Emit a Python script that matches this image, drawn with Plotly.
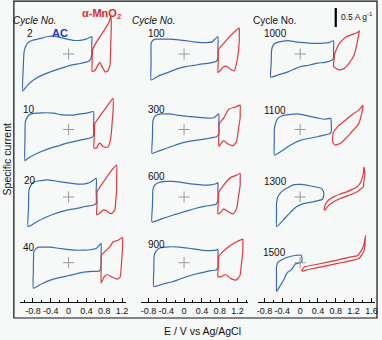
import plotly.graph_objects as go

# ---------------- data (E in V vs Ag/AgCl, specific current in A g-1) ----------------
cycles = ["2", "100", "1000", "10", "300", "1100", "20", "600", "1300", "40", "900", "1500"]

ac_2_E = [-1.03,-1.02,-1.00,-0.96,-0.89,-0.78,-0.63,-0.47,-0.34,-0.18,-0.03,0.10,0.26,0.39,0.52,0.52,0.52,0.49,0.44,0.26,0.04,-0.18,-0.41,-0.58,-0.78,-0.92,-1.03]
ac_2_I = [-0.97,-0.42,0.05,0.21,0.32,0.37,0.41,0.46,0.47,0.43,0.39,0.36,0.36,0.39,0.46,0.24,-0.03,-0.14,-0.20,-0.25,-0.30,-0.38,-0.47,-0.55,-0.68,-0.82,-0.97]
mn_2_E = [0.53,0.53,0.54,0.59,0.70,0.82,0.91,0.95,0.96,0.95,0.94,0.93,0.88,0.82,0.75,0.70,0.66,0.60,0.53]
mn_2_I = [-0.46,-0.16,0.11,0.24,0.45,0.66,0.84,1.00,0.76,0.37,-0.03,-0.29,-0.45,-0.47,-0.32,-0.22,-0.29,-0.42,-0.46]

ac_10_E = [-0.98,-0.98,-0.97,-0.92,-0.85,-0.72,-0.56,-0.33,-0.18,-0.04,0.10,0.26,0.41,0.56,0.56,0.56,0.52,0.26,-0.04,-0.23,-0.41,-0.61,-0.78,-0.90,-0.98]
ac_10_I = [-0.82,-0.28,0.21,0.34,0.41,0.43,0.44,0.43,0.39,0.38,0.38,0.41,0.43,0.47,0.12,-0.14,-0.21,-0.28,-0.36,-0.43,-0.49,-0.58,-0.67,-0.75,-0.82]
mn_10_E = [0.57,0.58,0.59,0.70,0.82,0.93,1.00,1.00,0.98,0.96,0.93,0.89,0.83,0.78,0.70,0.66,0.63,0.57]
mn_10_I = [-0.49,-0.14,0.16,0.35,0.54,0.72,0.82,0.51,0.20,-0.10,-0.33,-0.45,-0.47,-0.45,-0.36,-0.41,-0.49,-0.49]

ac_20_E = [-0.91,-0.90,-0.89,-0.84,-0.78,-0.63,-0.48,-0.34,-0.18,-0.01,0.19,0.33,0.48,0.62,0.62,0.62,0.56,0.37,0.19,-0.01,-0.18,-0.36,-0.56,-0.74,-0.91]
ac_20_I = [-0.78,-0.29,0.18,0.32,0.40,0.43,0.45,0.43,0.40,0.37,0.34,0.34,0.38,0.49,0.16,-0.17,-0.21,-0.25,-0.30,-0.34,-0.39,-0.46,-0.56,-0.67,-0.78]
mn_20_E = [0.63,0.64,0.64,0.75,0.86,0.97,1.08,1.08,1.08,1.06,1.04,0.97,0.93,0.85,0.78,0.70,0.63]
mn_20_I = [-0.47,-0.16,0.14,0.34,0.53,0.71,0.84,0.50,0.18,-0.08,-0.34,-0.43,-0.43,-0.36,-0.34,-0.43,-0.47]

ac_40_E = [-0.79,-0.79,-0.78,-0.73,-0.67,-0.54,-0.41,-0.23,-0.04,0.15,0.33,0.48,0.63,0.73,0.73,0.73,0.69,0.53,0.33,0.15,-0.04,-0.23,-0.41,-0.61,-0.79]
ac_40_I = [-0.67,-0.19,0.29,0.37,0.41,0.41,0.41,0.38,0.35,0.33,0.33,0.34,0.38,0.51,0.23,-0.06,-0.22,-0.23,-0.25,-0.30,-0.35,-0.40,-0.46,-0.56,-0.67]
mn_40_E = [0.73,0.73,0.74,0.84,0.93,1.00,1.11,1.21,1.21,1.19,1.16,1.10,1.08,0.96,0.87,0.82,0.78,0.73]
mn_40_I = [-0.54,-0.19,0.20,0.32,0.42,0.55,0.59,0.66,0.38,0.02,-0.37,-0.43,-0.43,-0.37,-0.31,-0.35,-0.41,-0.54]

ac_100_E = [-0.74,-0.74,-0.74,-0.70,-0.63,-0.49,-0.33,-0.16,0.04,0.22,0.41,0.51,0.63,0.76,0.76,0.76,0.72,0.56,0.41,0.22,0.04,-0.16,-0.33,-0.56,-0.74]
ac_100_I = [-0.68,-0.21,0.28,0.36,0.39,0.39,0.39,0.38,0.35,0.32,0.30,0.30,0.32,0.46,0.16,-0.11,-0.20,-0.24,-0.26,-0.30,-0.33,-0.39,-0.47,-0.57,-0.68]
mn_100_E = [0.76,0.77,0.77,0.89,1.00,1.13,1.24,1.24,1.24,1.22,1.18,1.13,1.07,1.04,0.98,0.92,0.85,0.80,0.76]
mn_100_I = [-0.49,-0.18,0.11,0.28,0.43,0.58,0.68,0.53,0.37,0.05,-0.24,-0.44,-0.42,-0.40,-0.34,-0.32,-0.38,-0.45,-0.49]

ac_300_E = [-0.72,-0.71,-0.70,-0.66,-0.59,-0.47,-0.33,-0.16,0.04,0.22,0.41,0.56,0.67,0.78,0.78,0.78,0.72,0.56,0.41,0.18,-0.04,-0.22,-0.41,-0.58,-0.72]
ac_300_I = [-0.63,-0.21,0.22,0.34,0.39,0.41,0.41,0.38,0.35,0.33,0.31,0.30,0.31,0.41,0.13,-0.13,-0.19,-0.23,-0.26,-0.30,-0.35,-0.42,-0.50,-0.57,-0.63]
mn_300_E = [0.78,0.78,0.79,0.89,1.00,1.15,1.26,1.26,1.26,1.22,1.18,1.11,1.06,1.00,0.94,0.89,0.82,0.78]
mn_300_I = [-0.44,-0.13,0.15,0.30,0.53,0.59,0.64,0.47,0.31,0.00,-0.31,-0.42,-0.42,-0.39,-0.34,-0.29,-0.39,-0.44]

ac_600_E = [-0.72,-0.71,-0.70,-0.66,-0.59,-0.44,-0.26,-0.09,0.11,0.29,0.48,0.60,0.72,0.76,0.76,0.76,0.72,0.60,0.48,0.29,0.11,-0.09,-0.26,-0.49,-0.72]
ac_600_I = [-0.66,-0.24,0.18,0.31,0.37,0.41,0.41,0.39,0.35,0.33,0.31,0.32,0.35,0.38,0.15,-0.09,-0.19,-0.22,-0.24,-0.29,-0.35,-0.42,-0.48,-0.57,-0.66]
mn_600_E = [0.76,0.77,0.78,0.89,0.98,1.07,1.17,1.26,1.26,1.26,1.22,1.18,1.11,1.06,1.00,0.94,0.89,0.82,0.76]
mn_600_I = [-0.44,-0.14,0.13,0.31,0.44,0.53,0.57,0.62,0.47,0.31,-0.01,-0.31,-0.44,-0.43,-0.39,-0.35,-0.31,-0.41,-0.44]

ac_900_E = [-0.68,-0.68,-0.67,-0.62,-0.56,-0.42,-0.26,-0.09,0.11,0.29,0.48,0.60,0.72,0.76,0.76,0.76,0.72,0.60,0.48,0.29,0.11,-0.09,-0.26,-0.47,-0.68]
ac_900_I = [-0.63,-0.22,0.20,0.32,0.38,0.41,0.42,0.41,0.38,0.35,0.32,0.32,0.33,0.36,0.12,-0.11,-0.19,-0.21,-0.24,-0.29,-0.35,-0.43,-0.50,-0.56,-0.63]
mn_900_E = [0.76,0.77,0.78,0.89,1.00,1.09,1.18,1.32,1.32,1.32,1.29,1.26,1.20,1.15,1.09,1.04,0.98,0.92,0.84,0.76]
mn_900_I = [-0.37,-0.09,0.16,0.31,0.42,0.49,0.55,0.62,0.47,0.29,-0.01,-0.32,-0.43,-0.46,-0.44,-0.41,-0.35,-0.31,-0.37,-0.37]

ac_1000_E = [-0.66,-0.65,-0.64,-0.60,-0.53,-0.41,-0.27,-0.10,0.10,0.24,0.39,0.53,0.65,0.75,0.75,0.75,0.69,0.55,0.39,0.22,0.02,-0.12,-0.27,-0.47,-0.66]
ac_1000_I = [-0.61,-0.24,0.11,0.24,0.30,0.33,0.35,0.32,0.30,0.28,0.28,0.29,0.30,0.35,0.11,-0.11,-0.18,-0.22,-0.24,-0.29,-0.33,-0.39,-0.47,-0.54,-0.61]
mn_1000_E = [0.75,0.76,0.78,0.88,1.02,1.21,1.28,1.33,1.32,1.30,1.26,1.21,1.10,0.99,0.88,0.81,0.75]
mn_1000_I = [-0.33,-0.16,0.02,0.28,0.44,0.53,0.56,0.61,0.53,0.41,0.18,-0.03,-0.24,-0.38,-0.42,-0.38,-0.33]

ac_1100_E = [-0.58,-0.58,-0.58,-0.55,-0.50,-0.43,-0.35,-0.21,-0.05,0.13,0.32,0.44,0.54,0.69,0.70,0.70,0.65,0.53,0.39,0.22,0.02,-0.12,-0.27,-0.38,-0.50,-0.58]
ac_1100_I = [-0.67,-0.33,-0.01,0.17,0.29,0.35,0.38,0.40,0.41,0.37,0.32,0.29,0.27,0.29,0.12,-0.06,-0.12,-0.15,-0.19,-0.23,-0.28,-0.35,-0.45,-0.54,-0.63,-0.67]
mn_1100_E = [0.73,0.74,0.84,0.95,1.06,1.19,1.32,1.41,1.40,1.37,1.32,1.24,1.13,1.01,0.91,0.78,0.73]
mn_1100_I = [-0.32,-0.10,0.07,0.18,0.29,0.41,0.51,0.64,0.51,0.36,0.16,0.04,-0.10,-0.25,-0.36,-0.41,-0.32]

ac_1300_E = [-0.53,-0.53,-0.53,-0.50,-0.43,-0.35,-0.25,-0.16,0.02,0.24,0.47,0.52,0.53,0.50,0.32,0.06,-0.09,-0.24,-0.38,-0.53]
ac_1300_I = [-0.78,-0.47,-0.17,0.01,0.12,0.20,0.26,0.32,0.33,0.29,0.23,0.16,0.05,-0.06,-0.12,-0.18,-0.26,-0.43,-0.61,-0.78]
mn_1300_E = [0.54,0.56,0.64,0.76,0.90,1.06,1.17,1.28,1.35,1.39,1.42,1.43,1.45,1.45,1.43,1.42,1.35,1.28,1.17,1.06,0.90,0.76,0.61,0.57,0.54]
mn_1300_I = [-0.34,-0.21,-0.08,0.01,0.08,0.14,0.20,0.27,0.37,0.49,0.63,0.79,0.66,0.54,0.39,0.27,0.20,0.14,0.08,0.03,-0.04,-0.12,-0.26,-0.33,-0.34]

ac_1500_E = [-0.53,-0.53,-0.53,-0.50,-0.42,-0.32,-0.20,-0.10,0.02,0.04,0.04,-0.02,-0.10,-0.20,-0.27,-0.32,-0.35,-0.41,-0.46,-0.53]
ac_1500_I = [-0.76,-0.43,-0.10,0.01,0.07,0.13,0.17,0.19,0.20,0.12,0.03,-0.01,-0.03,-0.19,-0.24,-0.32,-0.41,-0.53,-0.63,-0.76]
mn_1500_E = [0.03,0.10,0.39,0.84,1.17,1.28,1.36,1.43,1.47,1.46,1.44,1.39,1.32,1.17,0.84,0.39,0.17,0.06,0.03]
mn_1500_I = [-0.21,-0.11,-0.04,0.07,0.16,0.18,0.29,0.47,0.71,0.55,0.33,0.22,0.11,0.06,-0.02,-0.13,-0.18,-0.22,-0.21]

tickvals_12 = [-0.8, -0.4, 0, 0.4, 0.8, 1.2]
ticktext_12 = ["-0.8", "-0.4", "0", "0.4", "0.8", "1.2"]
tickvals_16 = [-0.8, -0.4, 0, 0.4, 0.8, 1.2, 1.6]
ticktext_16 = ["-0.8", "-0.4", "0", "0.4", "0.8", "1.2", "1.6"]
scale_bar_value = 0.5  # A g-1

# ---------------- layout geometry (pixels) ----------------
W, H = 382, 340
def fx(p): return p / W
def fy(p): return 1 - p / H

PX_PER_V = 45.0
PX_PER_A = 38.0
COL_ZERO = [68.3, 185.0, 302.3]
COL_AXIS = [(19.3, 126.7), (141.7, 250.0), (260.0, 377.7)]
ROW_ZERO = [54.0, 129.5, 197.0, 262.7]
AXIS_Y = 302.0
HALF = 50.0

BLUE = "#3a6cb4"
RED = "#e0393d"

panels = [
    (0, 0, ac_2_E, ac_2_I, mn_2_E, mn_2_I),
    (0, 1, ac_100_E, ac_100_I, mn_100_E, mn_100_I),
    (0, 2, ac_1000_E, ac_1000_I, mn_1000_E, mn_1000_I),
    (1, 0, ac_10_E, ac_10_I, mn_10_E, mn_10_I),
    (1, 1, ac_300_E, ac_300_I, mn_300_E, mn_300_I),
    (1, 2, ac_1100_E, ac_1100_I, mn_1100_E, mn_1100_I),
    (2, 0, ac_20_E, ac_20_I, mn_20_E, mn_20_I),
    (2, 1, ac_600_E, ac_600_I, mn_600_E, mn_600_I),
    (2, 2, ac_1300_E, ac_1300_I, mn_1300_E, mn_1300_I),
    (3, 0, ac_40_E, ac_40_I, mn_40_E, mn_40_I),
    (3, 1, ac_900_E, ac_900_I, mn_900_E, mn_900_I),
    (3, 2, ac_1500_E, ac_1500_I, mn_1500_E, mn_1500_I),
]
label_px = [(29, 34), (156.7, 34), (277.3, 34),
            (28.3, 109.3), (157.3, 109.3), (276.7, 110.7),
            (29, 180), (156.7, 176.7), (277.3, 181.7),
            (28.3, 247.3), (157.3, 244), (276.7, 252.7)]

def xname(c): return "x" if c == 0 else f"x{c+1}"
def yname(r): return "y" if r == 0 else f"y{r+1}"

fig = go.Figure()
for (r, c, aE, aI, mE, mI) in panels:
    fig.add_trace(go.Scatter(x=aE, y=aI, mode="lines", xaxis=xname(c), yaxis=yname(r),
                             line=dict(color=BLUE, width=1.2, shape="spline", smoothing=0.4),
                             hoverinfo="skip", showlegend=False))
    fig.add_trace(go.Scatter(x=mE, y=mI, mode="lines", xaxis=xname(c), yaxis=yname(r),
                             line=dict(color=RED, width=1.2, shape="spline", smoothing=0.4),
                             hoverinfo="skip", showlegend=False))
    fig.add_trace(go.Scatter(x=[0], y=[0], mode="markers", xaxis=xname(c), yaxis=yname(r),
                             marker=dict(symbol="cross-thin", size=8, line=dict(width=1, color="#9a9a9a")),
                             hoverinfo="skip", showlegend=False))

layout = dict(
    width=W, height=H, autosize=False,
    margin=dict(l=0, r=0, t=0, b=0),
    paper_bgcolor="#f7f8f8", plot_bgcolor="rgba(0,0,0,0)",
    font=dict(family="Liberation Sans, Arial, sans-serif", color="#111", size=10),
)
for c in range(3):
    d0, d1 = COL_AXIS[c]
    tv, tt = (tickvals_16, ticktext_16) if c == 2 else (tickvals_12, ticktext_12)
    rng = [(d0 - COL_ZERO[c]) / PX_PER_V, (d1 - COL_ZERO[c]) / PX_PER_V]
    minor_vals = [v for v in [-1.0, -0.6, -0.2, 0.2, 0.6, 1.0, 1.4] if rng[0] <= v <= rng[1]]
    key = "xaxis" if c == 0 else f"xaxis{c+1}"
    layout[key] = dict(
        domain=[fx(d0), fx(d1)], range=rng, anchor="free", position=fy(AXIS_Y),
        showline=True, linecolor="#111", linewidth=1, showgrid=False, zeroline=False,
        ticks="inside", ticklen=4, tickwidth=1, tickcolor="#111",
        tickmode="array", tickvals=tv, ticktext=tt, tickangle=0,
        tickfont=dict(size=9, color="#111"),
        minor=dict(tickmode="array", tickvals=minor_vals, ticks="inside", ticklen=2, tickcolor="#111", showgrid=False),
        fixedrange=True,
    )
for r in range(4):
    cy = ROW_ZERO[r]
    key = "yaxis" if r == 0 else f"yaxis{r+1}"
    layout[key] = dict(
        domain=[fy(cy + HALF), fy(cy - HALF)], range=[-HALF / PX_PER_A, HALF / PX_PER_A],
        anchor="free", position=0, visible=False, fixedrange=True,
    )
fig.update_layout(**layout)

# border box
fig.add_shape(type="rect", xref="paper", yref="paper", x0=fx(13), x1=fx(380), y0=fy(318), y1=fy(1.2),
              line=dict(color="#111", width=1.2), fillcolor="rgba(0,0,0,0)", layer="below")

# scale bar (0.5 A g-1) drawn in row-1 current units
bar_E = (338.3 - COL_ZERO[2]) / PX_PER_V
bar_I0 = (ROW_ZERO[0] - 27.0) / PX_PER_A
fig.add_shape(type="line", xref="x3", yref="y", x0=bar_E, x1=bar_E, y0=bar_I0, y1=bar_I0 + scale_bar_value,
              line=dict(color="#000", width=2.2))

ann = []
def text(x, y, s, size=10, color="#111", xanchor="center", angle=0):
    ann.append(dict(x=fx(x), y=fy(y), xref="paper", yref="paper", text=s, showarrow=False,
                    xanchor=xanchor, yanchor="middle", font=dict(size=size, color=color), textangle=angle))

text(341.5, 16.5, f"{scale_bar_value} A g<sup>-1</sup>", size=8.5, xanchor="left")
for (x, y) in [(33.5, 20.7), (154.5, 20.3)]:
    text(x, y, "<i>Cycle No.</i>", size=10)
text(276, 20.3, "Cycle No.", size=10)
for lab, (x, y) in zip(cycles, label_px):
    text(x, y, lab, size=10)
text(59.3, 33.5, "<b>AC</b>", size=11, color="#1f35c4")
text(102, 14.5, "<b>α-MnO<sub>2</sub></b>", size=11, color="#e02b2b")
text(203.5, 331, "E / V vs Ag/AgCl", size=10.5)
text(6.5, 159, "Specific current", size=10.5, angle=-90)
fig.update_layout(annotations=ann)

fig.write_html("out.html")
